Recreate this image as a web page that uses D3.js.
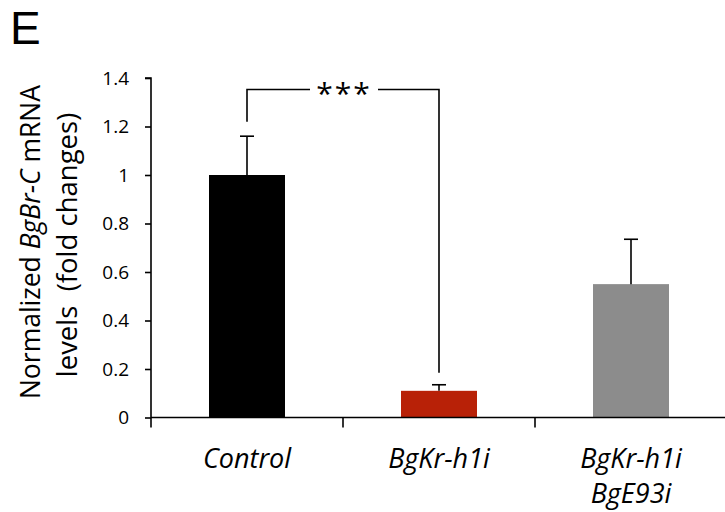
<!DOCTYPE html>
<html><head><meta charset="utf-8">
<script src="https://cdn.jsdelivr.net/npm/d3@7"></script>
<style>body{margin:0;background:#fff}svg{display:block}text{font-family:"Open Sans",sans-serif;fill:#000}</style>
</head><body>
<svg id="c" width="725" height="512"></svg>
<script>
const categories = ["Control", "BgKr-h1i", "BgKr-h1i\nBgE93i"];
const values = [1.0, 0.11, 0.55];
const errorTops = [1.16, 0.135, 0.735];
const colors = ["#000000", "#b82107", "#8c8c8c"];
const yTicks = [0, 0.2, 0.4, 0.6, 0.8, 1, 1.2, 1.4];

const svg = d3.select("#c");
const x = d3.scaleBand().domain(categories).range([151, 727]).paddingInner(0).paddingOuter(0);
const y = d3.scaleLinear().domain([0, 1.4]).range([417.5, 78]);
const bw = 76;

// bars
svg.selectAll("rect.bar").data(categories).enter().append("rect")
  .attr("x", d => x(d) + x.bandwidth()/2 - bw/2)
  .attr("width", bw)
  .attr("y", (d,i) => y(values[i]))
  .attr("height", (d,i) => y(0) - y(values[i]))
  .attr("fill", (d,i) => colors[i]);

// error bars
const eg = svg.append("g").attr("stroke", "#000").attr("stroke-width", 1.6);
categories.forEach((d,i) => {
  const cx = x(d) + x.bandwidth()/2;
  eg.append("line").attr("x1", cx).attr("x2", cx).attr("y1", y(values[i])).attr("y2", y(errorTops[i]));
  eg.append("line").attr("x1", cx-7).attr("x2", cx+7).attr("y1", y(errorTops[i])).attr("y2", y(errorTops[i]));
});

// y axis
const ya = svg.append("g").attr("transform", "translate(151,0)")
  .call(d3.axisLeft(y).tickValues(yTicks).tickSize(6).tickPadding(16).tickFormat(d => d3.format("~g")(d)));
ya.attr("font-size", null).attr("font-family", null);
ya.select(".domain").attr("d", "M-6," + y(1.4) + "H0V" + y(0)).attr("stroke-width", 1.6);
ya.selectAll(".tick line").attr("stroke-width", 1.6);
ya.selectAll(".tick text").style("font-size", "19px").style("font-family", "'Open Sans', sans-serif");

// x axis
const xa = svg.append("g").attr("transform", "translate(0," + y(0) + ")");
xa.append("line").attr("x1", 151).attr("x2", 725).attr("stroke", "#000").attr("stroke-width", 1.6);
[151, ...categories.slice(1).map(d => x(d))].forEach(t => {
  xa.append("line").attr("x1", t).attr("x2", t).attr("y1", 0).attr("y2", 10).attr("stroke", "#000").attr("stroke-width", 1.6);
});
categories.forEach(d => {
  const lines = d.split("\n");
  const t = xa.append("text").attr("text-anchor", "middle").attr("font-size", 27).attr("font-style", "italic")
    .attr("x", x(d) + x.bandwidth()/2).attr("y", 50);
  lines.forEach((l, j) => t.append("tspan").attr("x", x(d) + x.bandwidth()/2).attr("dy", j ? 35 : 0).text(l));
});

// significance bracket
const c0 = x(categories[0]) + x.bandwidth()/2, c1 = x(categories[1]) + x.bandwidth()/2;
const by = 89.5, mid = (c0 + c1)/2;
const br = svg.append("g").attr("stroke", "#000").attr("stroke-width", 1.6).attr("fill", "none");
br.append("path").attr("d", `M${c0},${y(1.22)}V${by}H${mid-33}`);
br.append("path").attr("d", `M${mid+35},${by}H${c1}V${y(0.185)}`);
svg.append("text").attr("x", mid+1).attr("y", by+14).attr("text-anchor", "middle").attr("font-size", 30).attr("letter-spacing", 2).text("***");

// y title
const yt = svg.append("text").attr("transform", "translate(0,242) rotate(-90)").attr("text-anchor", "middle").attr("font-size", 26.5);
const l1 = yt.append("tspan").attr("x", 0).attr("y", 40);
l1.append("tspan").text("Normalized ");
l1.append("tspan").attr("font-style", "italic").text("BgBr-C");
l1.append("tspan").text(" mRNA");
yt.append("tspan").attr("x", -3).attr("y", 77).attr("font-size", 27.5).attr("xml:space", "preserve").style("white-space", "pre").text("levels  (fold changes)");

// panel label
svg.append("text").attr("x", 10).attr("y", 43.5).attr("font-size", 46).style("font-family", "'Liberation Sans', sans-serif").text("E");
</script>
</body></html>
